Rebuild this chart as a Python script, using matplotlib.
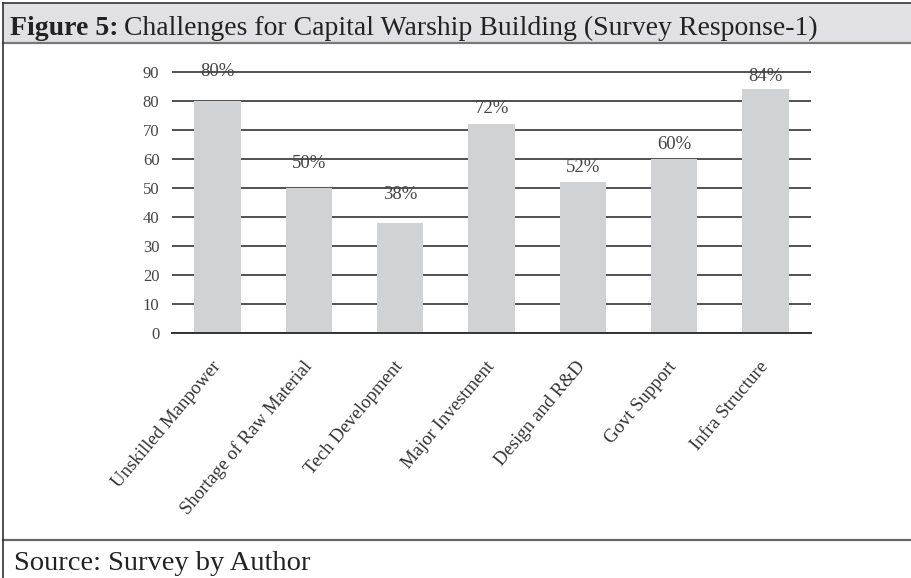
import matplotlib
matplotlib.use("Agg")
from matplotlib import pyplot as plt
from matplotlib.lines import Line2D
from matplotlib.patches import Rectangle

# categories and survey values (percent)
categories = ["Unskilled Manpower", "Shortage of Raw Material", "Tech Development",
              "Major Investment", "Design and R&D", "Govt Support", "Infra Structure"]
values = [80, 50, 38, 72, 52, 60, 84]
yticks = [0, 10, 20, 30, 40, 50, 60, 70, 80, 90]

# gap (px) between bar top and its % label, as in the original
label_gap = [21, 16, 20, 7, 6, 6, 4]

plt.rcParams['font.family'] = ['Liberation Serif', 'DejaVu Serif']

W, H = 912, 578
fig = plt.figure(figsize=(W / 100, H / 100), dpi=100)

# frame: title band, left border, source separator
fig.patches.append(Rectangle((3 / W, 1 - 43 / H), 1, 40 / H, transform=fig.transFigure,
                             facecolor="#e1e1e3", edgecolor="none"))
for (x0, x1, y0, y1, c, lw) in [
    (3, W, 3, 3, "#333333", 1.2),
    (3, W, 43, 43, "#777777", 1.6),
    (3, W, 540, 540, "#666666", 1.6),
    (3, 3, 3, H, "#333333", 1.2),
]:
    fig.lines.append(Line2D([x0 / W, x1 / W], [1 - y0 / H, 1 - y1 / H],
                            transform=fig.transFigure, color=c, lw=lw))

t1 = fig.text(10 / W, 1 - 35 / H, "Figure 5:", fontsize=20, fontweight="bold",
              color="#222222", va="baseline")
fig.canvas.draw()
bb = t1.get_window_extent()
fig.text((bb.x1 + 6) / W, 1 - 35 / H, "Challenges for Capital Warship Building (Survey Response-1)",
         fontsize=20, color="#222222", va="baseline")
fig.text(14 / W, 1 - 570 / H, "Source: Survey by Author", fontsize=20.5,
         color="#222222", va="baseline")

top_px = 333 - 2.9 * 91
ax = fig.add_axes([172 / W, 1 - 333 / H, (811 - 172) / W, (333 - top_px) / H])
x = range(len(categories))
ax.set_axisbelow(True)
ax.bar(x, values, width=0.51, color="#d1d2d4", zorder=2)
ax.set_xlim(-0.5, len(categories) - 0.5)
ax.set_ylim(0, 91)
ax.set_yticks(yticks)
ax.yaxis.grid(True, color="#333333", lw=1.2)
for s in ["top", "right", "left"]:
    ax.spines[s].set_visible(False)
ax.spines["bottom"].set_color("#333333")
ax.spines["bottom"].set_linewidth(1.4)
ax.tick_params(axis="y", length=0, pad=9, labelsize=12, labelcolor="#444444")
ax.tick_params(axis="x", length=0, pad=22)
ax.set_xticks(list(x))
ax.set_xticklabels(categories, rotation=50, ha="right", va="center",
                   rotation_mode="anchor", fontsize=13.5, color="#333333")

for i, v in enumerate(values):
    ax.annotate(f"{v}%", (i, v), xytext=(0, label_gap[i] * 0.72), textcoords="offset points",
                ha="center", va="bottom", fontsize=13.5, color="#444444", zorder=4,
                annotation_clip=False)

fig.savefig("out.png", dpi=100)
